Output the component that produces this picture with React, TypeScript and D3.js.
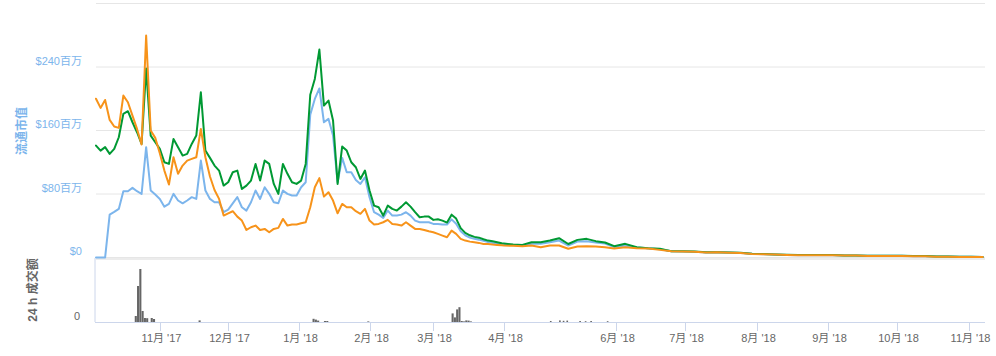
import React from "react";
import * as d3 from "d3";

const parse = d3.timeParse("%Y-%m-%d");

// Sampling grid of the series (dense part every 2 days, later part every 5 days)
const SEG_A = { start: "2017-10-04", stop: "2018-04-01", step: 2 };
const SEG_B = { start: "2018-04-01", stop: "2018-11-09", step: 5 };

// 流通市值 (market cap, $百万)
const marketCapA = [
  0, 0, 0, 54, 57.4, 61.2, 83.5, 83.5, 87.7, 83.5,
  80, 139, 84.4, 79.3, 73.8, 64, 67.6, 80.2, 71.8, 68.3,
  71.8, 76, 73.8, 122.1, 84.4, 73.8, 69.6, 69.6, 57.1, 60.4,
  68.3, 76, 63.3, 59.1, 69.6, 84.4, 73.8, 88.5, 80.2, 69.6,
  68.3, 84.4, 80.2, 78.1, 78.1, 88.5, 94.8, 180, 199.8, 213,
  170.4, 174.6, 153.6, 94.8, 125.5, 107.4, 107.4, 97.7, 92.7, 101.1,
  76, 57.1, 54, 49.9, 59.1, 52.8, 52.8, 54, 57.1, 52.8,
  46.5, 44.4, 44.4, 44.4, 42.3, 42.3, 41.5, 41.5, 48, 42.5,
  33, 28, 25, 23.5, 22.5, 21, 19.6, 18.4, 17.5, 16.7,
];
const marketCapB = [
  16.4, 15.5, 15.1, 17.2, 17.2, 19.3, 21.4, 15, 20.1, 20.6,
  18.9, 17.6, 13, 15.1, 12.6, 11.7, 10.5, 8, 7.7, 7.3,
  6.3, 6.5, 6.2, 5.8, 4.6, 4.2, 3.8, 3.3, 2.9, 2.9,
  2.9, 2.9, 2.5, 2.5, 2.1, 2.1, 2.1, 2.1, 1.7, 1.7,
  1.2, 1.2, 0.8, 0.8, 0.6,
];

// 价格 (USD), drawn on the same scale as it appears
const priceUsdA = [
  141, 134.7, 139, 130.5, 136.8, 151.5, 181, 184.3, 170.4, 157.8,
  143, 238, 153.6, 145.2, 136.8, 120, 117.9, 149.4, 139, 128.4,
  130.5, 143.1, 153.6, 208.2, 134.7, 125.5, 115.8, 109.5, 90.6, 94.8,
  107.4, 109.5, 86.4, 90.6, 96.9, 117.9, 96.9, 122.1, 117.9, 92.7,
  80.2, 117.9, 105.4, 94.8, 92.7, 96.9, 117.9, 205, 225, 262,
  191.4, 197.7, 172.5, 92.7, 139.7, 134.7, 120, 113.7, 99, 109.5,
  84.4, 65.4, 63.3, 52.8, 65.4, 61.2, 59.1, 64.1, 69.6, 64.1,
  57.1, 50.7, 51.5, 51.5, 47.4, 48.2, 46.5, 44, 54, 49,
  37, 31, 28, 26, 25, 23, 21.3, 20.5, 19.2, 17.9,
];
const priceUsdB = [
  17.6, 16.4, 15.9, 19.3, 19.3, 21.4, 24.3, 17, 22.2, 23.5,
  20.6, 18.9, 14.3, 17.2, 13, 11.7, 10.9, 8, 8, 7.5,
  6.5, 6.7, 6.3, 5.9, 4.8, 4.3, 3.9, 3.4, 3, 3,
  3, 3, 2.6, 2.6, 2.2, 2.2, 2.2, 2.2, 1.8, 1.8,
  1.3, 1.3, 0.9, 0.9, 0.7,
];

// 价格 (BTC)
const priceBtcA = [
  200, 188.5, 198.5, 173.3, 165, 163.3, 204, 195.6, 178.8, 162,
  142.3, 279.6, 160, 150.7, 131.3, 109.5, 91.9, 126.3, 105.4, 115.8,
  122.1, 124.2, 126.3, 162, 126.3, 102, 85.1, 73.8, 52.8, 55.7,
  58.3, 51.5, 46.5, 34.7, 38.1, 40.2, 34.7, 36, 31.8, 36,
  37.3, 48.6, 40.2, 41.5, 41.5, 43.1, 44.4, 63.3, 88.5, 100,
  76.7, 82.2, 71.7, 55.7, 67.5, 63.3, 63.3, 58.3, 55, 61.2,
  46.5, 41.5, 42.3, 44.4, 47.4, 42.3, 41.5, 40.2, 44.4, 40.2,
  36, 36, 34.7, 33, 31.8, 29.7, 27.6, 25.5, 33.9, 29.7,
  23.4, 21.3, 20, 19.2, 18.4, 17.1, 17.1, 16.3, 15.8, 15.4,
];
const priceBtcB = [
  15.1, 14.7, 14.3, 15.1, 13, 15.1, 15.1, 11, 13.8, 14.3,
  13.8, 13, 11.3, 13, 11.7, 11.3, 9.6, 8, 7.5, 7.3,
  6.3, 6.5, 6, 5.7, 4.5, 4.1, 3.7, 3.2, 2.8, 2.8,
  2.8, 2.8, 2.4, 2.4, 2, 2, 2, 2, 1.6, 1.6,
  1.1, 1.1, 0.7, 0.7, 0.5,
];

// 24 h 成交额 (volume, $百万)
const volDates = [
  "2017-10-21", "2017-10-22", "2017-10-23", "2017-10-24", "2017-10-25", "2017-10-26",
  "2017-10-28", "2017-10-29", "2017-11-18", "2018-01-07", "2018-01-08", "2018-01-09",
  "2018-01-12", "2018-01-13", "2018-01-31", "2018-03-09", "2018-03-10", "2018-03-11",
  "2018-03-12", "2018-03-13", "2018-03-14", "2018-03-15", "2018-03-16", "2018-03-17",
  "2018-04-26", "2018-05-01", "2018-05-03", "2018-05-05", "2018-05-12", "2018-05-15",
  "2018-05-18", "2018-05-27",
];
const volValues = [
  0.3, 1.8, 2.65, 0.55, 0.2, 0.19,
  0.2, 0.15, 0.08, 0.16, 0.12, 0.07,
  0.05, 0.05, 0.03, 0.43, 0.23, 0.63,
  0.74, 0.05, 0.03, 0.08, 0.07, 0.03,
  0.05, 0.08, 0.06, 0.07, 0.05, 0.04,
  0.05, 0.04,
];

const yTicks = [0, 80, 160, 240, 320];
const yTickLabels = ["$0", "$80百万", "$160百万", "$240百万", ""];

const xTickDates = [
  "2017-11-01", "2017-12-01", "2018-01-01", "2018-02-01", "2018-03-01", "2018-04-01",
  "2018-06-01", "2018-07-01", "2018-08-01", "2018-09-01", "2018-10-01", "2018-11-01",
];
const xTickLabels = [
  "11月 '17", "12月 '17", "1月 '18", "2月 '18", "3月 '18", "4月 '18",
  "6月 '18", "7月 '18", "8月 '18", "9月 '18", "10月 '18", "11月 '18",
];

// ordinal-like axis: April–May compressed
const xDomain = ["2017-10-04", "2018-04-01", "2018-06-01", "2018-11-08"];

const COLORS = { cap: "#7cb5ec", usd: "#009933", btc: "#f7931a" };
const FONT = "'Liberation Sans', Arial, 'Noto Sans CJK SC', sans-serif";

export default function App() {
  const W = 996, H = 356;
  const left = 96, right = 985;
  const mainTop = 3.5, mainBottom = 257.5;
  const volTop = 258, volBottom = 322;

  const x = d3.scaleTime()
    .domain(xDomain.map((s) => parse(s) as Date))
    .range([left, 504, 616, right]);
  const y = d3.scaleLinear().domain([0, 320]).range([mainBottom, mainTop]);
  const yVol = d3.scaleLinear().domain([0, 3.2]).range([volBottom, volTop]);

  const dates = [
    ...d3.timeDay.range(parse(SEG_A.start) as Date, parse(SEG_A.stop) as Date, SEG_A.step),
    ...d3.timeDay.range(parse(SEG_B.start) as Date, parse(SEG_B.stop) as Date, SEG_B.step),
  ];

  const mk = (a: number[], b: number[]) => {
    const vals = [...a, ...b];
    return dates.map((d, i) => ({ d, v: vals[i] })).filter((p) => p.v !== undefined);
  };
  const series = [
    { key: "cap", color: COLORS.cap, data: mk(marketCapA, marketCapB) },
    { key: "usd", color: COLORS.usd, data: mk(priceUsdA, priceUsdB) },
    { key: "btc", color: COLORS.btc, data: mk(priceBtcA, priceBtcB) },
  ];

  const line = d3.line<{ d: Date; v: number }>()
    .x((p) => x(p.d))
    .y((p) => y(p.v));

  const bars = volDates.map((s, i) => {
    const d = parse(s) as Date;
    const x0 = x(d);
    const x1 = x(d3.timeDay.offset(d, 1));
    return { x0, w: Math.max(1, x1 - x0 - 0.2), v: volValues[i] };
  });

  return (
    <svg
      width={W}
      height={H}
      style={{ position: "absolute", left: 0, top: 0, background: "#fff" }}
      fontFamily={FONT}
    >
      {/* main grid */}
      {yTicks.map((t) => (
        <line key={t} x1={left} x2={right} y1={y(t)} y2={y(t)} stroke="#e6e6e6" strokeWidth={1} />
      ))}
      {/* volume pane top grid */}
      <line x1={left} x2={right} y1={volTop + 1} y2={volTop + 1} stroke="#e6e6e6" strokeWidth={1.5} />

      {/* y labels */}
      {yTicks.map((t, i) =>
        yTickLabels[i] ? (
          <text key={t} x={82} y={y(t) - 2.5} textAnchor="end" fontSize={11} fill={COLORS.cap}>
            {yTickLabels[i]}
          </text>
        ) : null
      )}
      <text
        transform={`translate(26,131) rotate(-90)`}
        textAnchor="middle"
        fontSize={12}
        fontWeight="bold"
        fill={COLORS.cap}
      >
        流通市值
      </text>

      {/* lines */}
      {series.map((s) => (
        <path
          key={s.key}
          d={line(s.data) || ""}
          fill="none"
          stroke={s.color}
          strokeWidth={2}
          strokeLinejoin="round"
          strokeLinecap="round"
        />
      ))}

      {/* volume pane */}
      <line x1={left - 1} x2={left - 1} y1={volTop} y2={volBottom} stroke="#ccd6eb" strokeWidth={1} />
      {bars.map((b, i) => (
        <rect key={i} x={b.x0} y={yVol(b.v)} width={b.w} height={volBottom - yVol(b.v)} fill="#666" />
      ))}
      <line x1={left - 1} x2={right} y1={volBottom + 0.5} y2={volBottom + 0.5} stroke="#ccd6eb" strokeWidth={1} />
      <text x={80} y={320} textAnchor="end" fontSize={11} fill="#666">0</text>
      <text
        transform={`translate(36.5,290) rotate(-90)`}
        textAnchor="middle"
        fontSize={12}
        fontWeight="bold"
        fill="#666"
      >
        24 h 成交额
      </text>

      {/* x axis */}
      {xTickDates.map((s, i) => {
        const xx = Math.round(x(parse(s) as Date)) + 0.5;
        return (
          <g key={s}>
            <line x1={xx} x2={xx} y1={volBottom} y2={volBottom + 9} stroke="#ccd6eb" strokeWidth={1} />
            <text x={xx + 1} y={342} textAnchor="middle" fontSize={11} fill="#666">
              {xTickLabels[i]}
            </text>
          </g>
        );
      })}
    </svg>
  );
}
